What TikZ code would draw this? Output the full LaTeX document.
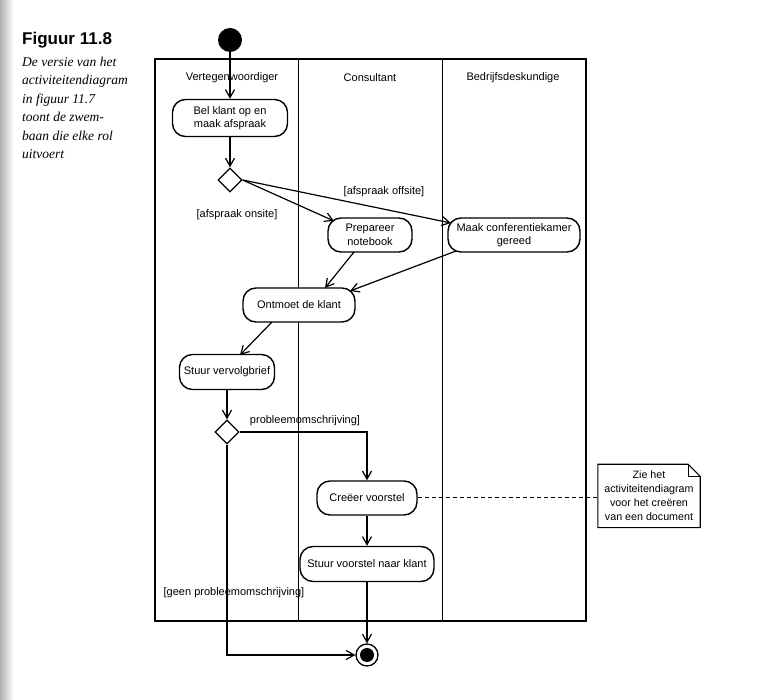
\documentclass[tikz,border=0pt]{standalone}
\usepackage{fontspec}
\setmainfont{Liberation Sans}
\newfontfamily\capserif{Liberation Serif}
\usetikzlibrary{arrows.meta,shapes.geometric}
\begin{document}
\begin{tikzpicture}[x=1pt,y=-1pt,
  act/.style={draw,line width=1.4pt,rounded corners=13pt,fill=white,minimum height=34pt,inner sep=0pt,align=center,font=\fontsize{11}{13.5}\selectfont},
  dec/.style={draw,diamond,line width=1.3pt,fill=white,minimum width=24pt,minimum height=24pt,inner sep=0pt},
  flow/.style={line width=1.2pt,-{Straight Barb[length=8pt,width=9pt]}},
  guard/.style={font=\fontsize{11}{13}\selectfont,inner sep=0pt},
  lane/.style={font=\fontsize{11}{13}\selectfont,inner sep=0pt},
  notebox/.style={inner sep=0pt,minimum width=102pt,minimum height=63pt,align=center,font=\fontsize{10.7}{14}\selectfont},
  frameedge/.style={line width=2.6pt},
  frameside/.style={line width=1.2pt},
  lanediv/.style={line width=0.8pt}
]
\useasboundingbox (0,0) rectangle (772,700);
\shade[left color=black!30,right color=white] (0,0) rectangle (14,700);

% caption
\node[anchor=base west,inner sep=0pt,font=\fontsize{17}{20}\bfseries\selectfont] (figtitle) at (22,45) {Figuur 11.8};
\node[anchor=north west,inner sep=0pt,align=left,font=\capserif\itshape\fontsize{13.5}{18.5}\selectfont] (figcap) at (22,56.5) {De versie van het\\activiteitendiagram\\in figuur 11.7\\toont de zwem-\\baan die elke rol\\uitvoert};

% swimlane frame
\draw[frameside] (155,59) -- (155,621);
\draw[frameside] (586,59) -- (586,621);
\draw[lanediv] (298,59) -- (298,621);
\draw[lanediv] (442,59) -- (442,621);
\draw[frameedge] (154,59) -- (587,59);
\draw[frameedge] (154,621) -- (587,621);

\node[lane] (l1) at (232,78) {Vertegenwoordiger};
\node[lane] (l2) at (370,78) {Consultant};
\node[lane] (l3) at (513,78) {Bedrijfsdeskundige};

% nodes
\node[circle,fill=black,minimum size=24pt,inner sep=0pt] (start) at (230,40) {};
\node[act,minimum width=115pt,minimum height=37pt] (bel) at (230,118) {Bel klant op en\\maak afspraak};
\node[dec] (d1) at (230,180) {};
\node[act,minimum width=84pt] (prep) at (370,235) {Prepareer\\notebook};
\node[act,minimum width=132pt] (maak) at (514,235) {Maak conferentiekamer\\gereed};
\node[act,minimum width=112pt] (meet) at (299,305) {Ontmoet de klant};
\node[act,minimum width=95pt,minimum height=35pt] (brief) at (227,372) {Stuur vervolgbrief};
\node[dec] (d2) at (227,432) {};
\node[act,minimum width=100pt] (cre) at (367,498) {Creëer voorstel};
\node[act,minimum width=134pt,minimum height=35pt] (svk) at (367,564) {Stuur voorstel naar klant};
\node[circle,draw,line width=1.3pt,minimum size=22pt,inner sep=0pt,fill=white] (end) at (367,655) {};
\node[circle,fill=black,minimum size=14pt,inner sep=0pt] (endin) at (end.center) {};

% note
\node[notebox] (note) at (649,496) {Zie het\\activiteitendiagram\\voor het creëren\\van een document};
\draw[line width=1.1pt] (note.north west) -- ([xshift=-12pt]note.north east) -- ([yshift=-12pt]note.north east) -- (note.south east) -- (note.south west) -- cycle;
\draw[line width=0.8pt] ([xshift=-12pt]note.north east) -- ([xshift=-12pt,yshift=-12pt]note.north east) -- ([yshift=-12pt]note.north east);

% guards
\node[guard] (g1) at (237,215) {[afspraak onsite]};
\node[guard] (g2) at (384,192) {[afspraak offsite]};
\node[guard] (g3) at (305,421) {probleemomschrijving]};
\node[guard] (g4) at (234,593) {[geen probleemomschrijving]};

% connectors
\draw[flow] (start) -- (bel);
\draw[flow] (bel) -- (d1);
\draw[flow] (d1.east) -- ([shift={(-36,-14)}]prep.center);
\draw[flow] (d1.east) -- ([shift={(-63,-12)}]maak.center);
\draw[flow] ([shift={(-16,17)}]prep.center) -- ([shift={(26,-17)}]meet.center);
\draw[flow] ([shift={(-58,16)}]maak.center) -- ([shift={(51,-14)}]meet.center);
\draw[flow] ([shift={(-27,17)}]meet.center) -- ([shift={(13,-17)}]brief.center);
\draw[flow] (brief) -- (d2);
\draw[flow] (d2.east) -| (cre.north);
\draw[flow] (cre) -- (svk);
\draw[flow] (svk) -- (end);
\draw[flow] (d2.south) |- (end.west);
\draw[line width=1pt,dash pattern=on 4pt off 3pt] (cre.east) -- (cre.east -| note.west);
\end{tikzpicture}
\end{document}
